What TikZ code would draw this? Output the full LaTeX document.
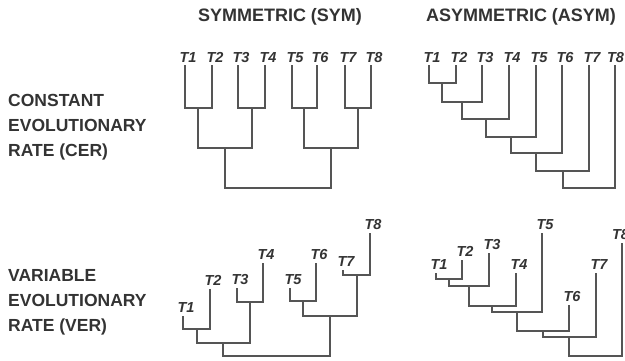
\documentclass[tikz,border=0pt]{standalone}
\usepackage{fontspec}
\setmainfont{Liberation Sans}
\definecolor{txt}{HTML}{333333}
\definecolor{ln}{HTML}{555555}
\begin{document}
\begin{tikzpicture}[x=1pt,y=-1pt,
  branch/.style={draw=ln,line width=2pt,line join=miter},
  leaflab/.style={anchor=south,inner sep=0pt,text=txt,font=\fontsize{14.5}{16}\selectfont\bfseries\itshape},
  title/.style={inner sep=0pt,text=txt,font=\fontsize{18}{20}\selectfont\bfseries},
  rowlab/.style={anchor=north west,inner sep=0pt,align=left,text=txt,font=\fontsize{17.5}{25}\selectfont\bfseries}]
\useasboundingbox (0,0) rectangle (625,360);
% titles
\node[title] (tsym) at (280,17) {SYMMETRIC (SYM)};
\node[title] (tasym) at (521,17) {ASYMMETRIC (ASYM)};
\node[rowlab] (cer) at (8,94.5) {CONSTANT\\EVOLUTIONARY\\RATE (CER)};
\node[rowlab] (ver) at (8,269.5) {VARIABLE\\EVOLUTIONARY\\RATE (VER)};
% ---------- top symmetric ----------
\foreach \n/\x in {1/185,2/212,3/238,4/265,5/292,6/317,7/345,8/371}{
  \coordinate (a\n) at (\x,65);
  \node[leaflab,yshift=2pt,xshift=3pt] (la\n) at (a\n) {T\n};
}
\coordinate (a12) at (198,108);
\coordinate (a34) at (252,108);
\coordinate (a56) at (304,108);
\coordinate (a78) at (358,108);
\coordinate (a1234) at (225,148);
\coordinate (a5678) at (331,148);
\coordinate (aR) at (278,188);
\foreach \p/\l/\r in {a12/a1/a2,a34/a3/a4,a56/a5/a6,a78/a7/a8,a1234/a12/a34,a5678/a56/a78,aR/a1234/a5678}{
  \draw[branch] (\l) -- (\l |- \p) -- (\r |- \p) -- (\r);
}
% ---------- top asymmetric ----------
\foreach \n/\x/\s in {1/429/3,2/456/3,3/482/3,4/509/3,5/536/3,6/562/3,7/589/3,8/615/0.5}{
  \coordinate (b\n) at (\x,65);
  \node[leaflab,yshift=2pt,xshift=\s pt] (lb\n) at (b\n) {T\n};
}
\coordinate (bb1) at (b1);
\coordinate (bb2) at (442,83);
\coordinate (bb3) at (462,102);
\coordinate (bb4) at (486,119);
\coordinate (bb5) at (511,137);
\coordinate (bb6) at (536,153);
\coordinate (bb7) at (563,171);
\coordinate (bb8) at (589,188);
\foreach \p/\l/\r in {bb2/bb1/b2,bb3/bb2/b3,bb4/bb3/b4,bb5/bb4/b5,bb6/bb5/b6,bb7/bb6/b7,bb8/bb7/b8}{
  \draw[branch] (\l) -- (\l |- \p) -- (\r |- \p) -- (\r);
}
% ---------- bottom symmetric ----------
\foreach \n/\x/\y in {1/183/316,2/210/289,3/237/288,4/263/263,5/290/288,6/316/263,7/343/270,8/370/233}{
  \coordinate (c\n) at (\x,\y);
  \node[leaflab,yshift=3pt,xshift=3pt] (lc\n) at (c\n) {T\n};
}
\coordinate (c12) at (197,329);
\coordinate (c34) at (250,302);
\coordinate (c56) at (303,301);
\coordinate (c78) at (357,275);
\coordinate (c1234) at (223,343);
\coordinate (c5678) at (330,316);
\coordinate (cR) at (277,356);
\foreach \p/\l/\r in {c12/c1/c2,c34/c3/c4,c56/c5/c6,c78/c7/c8,c1234/c12/c34,c5678/c56/c78,cR/c1234/c5678}{
  \draw[branch] (\l) -- (\l |- \p) -- (\r |- \p) -- (\r);
}
% ---------- bottom asymmetric ----------
\foreach \n/\x/\y/\s in {1/436/273/3,2/462/260/3,3/489/253/3,4/516/273/3,5/542/233/3,6/569/305/3,7/596/273/3,8/622/243/-1.5}{
  \coordinate (d\n) at (\x,\y);
  \node[leaflab,yshift=3pt,xshift=\s pt] (ld\n) at (d\n) {T\n};
}
\coordinate (e1) at (d1);
\coordinate (e2) at (449,279);
\coordinate (e3) at (469,286);
\coordinate (e4) at (492,306);
\coordinate (e5) at (517,312);
\coordinate (e6) at (543,331);
\coordinate (e7) at (569,337);
\coordinate (e8) at (596,356);
\foreach \p/\l/\r in {e2/e1/d2,e3/e2/d3,e4/e3/d4,e5/e4/d5,e6/e5/d6,e7/e6/d7,e8/e7/d8}{
  \draw[branch] (\l) -- (\l |- \p) -- (\r |- \p) -- (\r);
}
\end{tikzpicture}
\end{document}
